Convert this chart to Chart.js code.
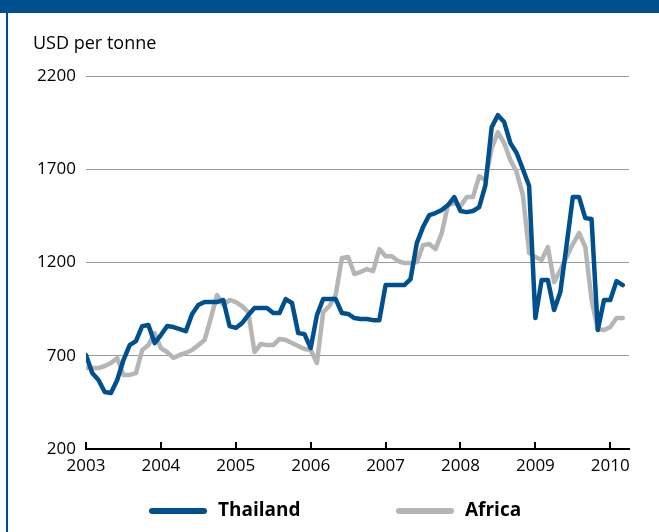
<!DOCTYPE html>
<html>
<head>
<meta charset="utf-8">
<script src="https://cdn.jsdelivr.net/npm/chart.js@4/dist/chart.umd.min.js"></script>
<style>
  html, body { margin: 0; padding: 0; background: #fff; }
  #wrap { position: relative; width: 659px; height: 532px; }
  #band { position: absolute; left: 0; top: 0; width: 659px; height: 13px; background: #00508f; }
  #edge { position: absolute; left: 6px; top: 13px; width: 2px; height: 519px; background: #00508f; }
  canvas { position: absolute; left: 0; top: 0; }
</style>
</head>
<body>
<div id="wrap">
  <canvas id="chart" width="659" height="532"></canvas>
  <div id="band"></div>
  <div id="edge"></div>
</div>
<script>
const startYear = 2003; // monthly series, January 2003 onwards
const yearTicks = [2003, 2004, 2005, 2006, 2007, 2008, 2009, 2010];
const yTicks = [200, 700, 1200, 1700, 2200];

const thailand = [
  704, 607, 570, 506, 500, 570, 677, 757, 779, 859, 865, 768,   // 2003
  811, 859, 854, 843, 832, 924, 972, 988, 988, 988, 999, 859,   // 2004
  849, 875, 918, 956, 956, 956, 929, 929, 1004, 983, 822, 816,  // 2005
  741, 918, 1004, 1004, 1004, 929, 924, 902, 897, 897, 891, 891, // 2006
  1079, 1079, 1079, 1079, 1111, 1304, 1390, 1454, 1465, 1481, 1508, 1551, // 2007
  1476, 1470, 1476, 1497, 1615, 1926, 1990, 1953, 1840, 1787, 1700, 1610, // 2008
  902, 1106, 1106, 945, 1042, 1293, 1551, 1551, 1438, 1433, 838, 999,   // 2009
  999, 1100, 1079                                                      // 2010
];

const africa = [
  634, 634, 634, 645, 661, 688, 597, 597, 607, 731, 757, 822,   // 2003
  741, 720, 688, 704, 715, 731, 757, 784, 902, 1025, 972, 999,  // 2004
  988, 966, 934, 720, 763, 757, 757, 790, 784, 768, 752, 736,   // 2005
  731, 661, 934, 966, 1025, 1224, 1229, 1138, 1149, 1165, 1154, 1272, // 2006
  1234, 1234, 1208, 1197, 1197, 1202, 1293, 1299, 1272, 1358, 1508, 1519, // 2007
  1502, 1551, 1551, 1663, 1642, 1813, 1899, 1840, 1749, 1685, 1560, 1251, // 2008
  1229, 1213, 1283, 1095, 1159, 1229, 1299, 1358, 1283, 999, 843, 838,   // 2009
  854, 902, 902                                                         // 2010
];

const seriesNames = ["Thailand", "Africa"];
const seriesColors = ["#00508f", "#b5b5b5"];

const font = "'Open Sans', 'Noto Sans', sans-serif";

function toPoints(values) {
  return values.map((v, i) => ({ x: startYear + i / 12, y: v }));
}

// axis unit label, upward year ticks and the bottom legend
const decorations = {
  id: "decorations",
  afterDraw(chart) {
    const { ctx, chartArea } = chart;
    const xs = chart.scales.x;

    ctx.save();
    ctx.fillStyle = "#000";
    ctx.font = "18px " + font;
    ctx.textBaseline = "middle";
    ctx.textAlign = "left";
    ctx.fillText("USD per tonne", 33, 44);

    // year ticks point up into the plot
    ctx.strokeStyle = "#000";
    ctx.lineWidth = 2;
    yearTicks.forEach(y => {
      const px = Math.round(xs.getPixelForValue(y));
      ctx.beginPath();
      ctx.moveTo(px, chartArea.bottom);
      ctx.lineTo(px, chartArea.bottom - 7);
      ctx.stroke();
    });

    // legend
    const items = [
      { x1: 152, x2: 204, tx: 218 },
      { x1: 399, x2: 451, tx: 465 }
    ];
    const ly = 511;
    ctx.font = "bold 19px " + font;
    chart.data.datasets.forEach((ds, i) => {
      const it = items[i];
      ctx.beginPath();
      ctx.lineCap = "round";
      ctx.lineWidth = 6;
      ctx.strokeStyle = ds.borderColor;
      ctx.moveTo(it.x1, ly);
      ctx.lineTo(it.x2, ly);
      ctx.stroke();
      ctx.fillStyle = "#000";
      ctx.fillText(ds.label, it.tx, ly);
    });
    ctx.restore();
  }
};

new Chart(document.getElementById("chart"), {
  type: "line",
  data: {
    datasets: [
      {
        label: seriesNames[0],
        data: toPoints(thailand),
        borderColor: seriesColors[0],
        borderWidth: 4.5,
        pointRadius: 0,
        tension: 0,
        borderJoinStyle: "round",
        borderCapStyle: "round"
      },
      {
        label: seriesNames[1],
        data: toPoints(africa),
        borderColor: seriesColors[1],
        borderWidth: 4.5,
        pointRadius: 0,
        tension: 0,
        borderJoinStyle: "round",
        borderCapStyle: "round"
      }
    ]
  },
  options: {
    responsive: false,
    animation: false,
    events: [],
    layout: { padding: { top: 76, right: 30, left: 0, bottom: 0 } },
    plugins: {
      legend: { display: false },
      tooltip: { enabled: false }
    },
    scales: {
      x: {
        type: "linear",
        min: 2003,
        max: 2010.25,
        afterFit(scale) { scale.height = 83; },
        afterBuildTicks(scale) { scale.ticks = yearTicks.map(v => ({ value: v })); },
        ticks: {
          includeBounds: false,
          padding: 7,
          color: "#000",
          font: { family: font, size: 17 },
          maxRotation: 0,
          callback: v => String(v)
        },
        grid: { display: false, drawTicks: false },
        border: { display: true, color: "#000", width: 2 }
      },
      y: {
        min: 200,
        max: 2200,
        afterFit(scale) { scale.width = 86; },
        afterBuildTicks(scale) { scale.ticks = yTicks.map(v => ({ value: v })); },
        ticks: {
          padding: 10,
          color: "#000",
          font: { family: font, size: 17 },
          callback: v => String(v)
        },
        grid: { color: "#9a9a9a", lineWidth: 1, drawTicks: false },
        border: { display: false }
      }
    }
  },
  plugins: [decorations]
});
</script>
</body>
</html>
